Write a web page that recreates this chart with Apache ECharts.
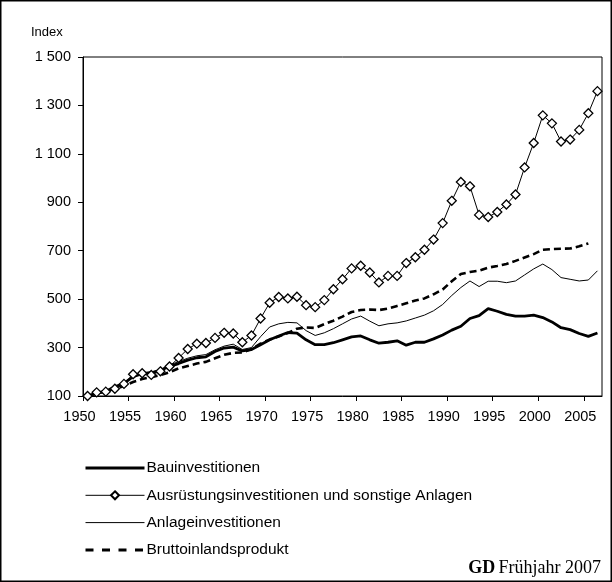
<!DOCTYPE html>
<html>
<head>
<meta charset="utf-8">
<script src="https://cdn.jsdelivr.net/npm/echarts@6/dist/echarts.min.js"></script>
<style>
  html, body { margin: 0; padding: 0; background: #fff; }
  #main { width: 612px; height: 582px; }
</style>
</head>
<body>
<div id="main"></div>
<script>
// Jahre (Kategorien)
var years = [1950,1951,1952,1953,1954,1955,1956,1957,1958,1959,
             1960,1961,1962,1963,1964,1965,1966,1967,1968,1969,
             1970,1971,1972,1973,1974,1975,1976,1977,1978,1979,
             1980,1981,1982,1983,1984,1985,1986,1987,1988,1989,
             1990,1991,1992,1993,1994,1995,1996,1997,1998,1999,
             2000,2001,2002,2003,2004,2005,2006];

// Bauinvestitionen (Index 1950 = 100)
var bau = [100,112,120,138,152,180,192,196,206,222,
           234,248,258,262,284,298,302,286,292,312,
           332,348,362,360,332,312,312,320,332,344,
           348,332,318,322,328,310,322,322,336,352,
           372,388,420,432,461,450,437,430,430,434,
           424,406,382,374,358,346,360];

// Ausrüstungsinvestitionen und sonstige Anlagen
var ausruestung = [100,115,118,130,150,190,194,187,202,222,
                   257,294,316,319,340,361,358,322,350,420,
                   485,509,503,510,475,467,496,541,582,627,
                   638,610,569,596,596,649,673,704,746,814,
                   906,984,966,848,839,860,891,932,1044,1145,
                   1259,1226,1151,1159,1199,1268,1359];

// Anlageinvestitionen
var anlage = [100,112,121,137,153,183,196,199,209,228,
              242,256,266,271,291,306,314,292,300,345,
              385,398,404,402,370,350,361,378,398,418,
              430,409,390,398,402,410,422,434,452,478,
              515,548,575,552,574,574,568,575,600,625,
              645,622,589,582,575,579,617];

// Bruttoinlandsprodukt
var bip = [100,110,119,130,141,158,170,178,186,198,
           214,224,234,241,256,270,278,280,294,316,
           333,346,360,378,383,381,397,411,428,447,
           455,457,455,461,472,483,494,503,520,540,
           574,604,612,618,630,637,645,658,672,686,
           704,707,708,709,718,730,null];

// Achsenbeschriftungen
var xTickLabels = [1950,1955,1960,1965,1970,1975,1980,1985,1990,1995,2000,2005];
var yTickLabels = [100,300,500,700,900,1100,1300,1500];

function pairs(values) {
    return years.map(function (y, i) { return [y, values[i]]; });
}

var myChart = echarts.init(document.getElementById('main'));

var axisFont = {color: '#000', fontSize: 14.5, fontFamily: 'Liberation Sans'};
var noSymbol = {opacity: 0};

option = {
    animation: false,
    backgroundColor: '#fff',
    grid: {
        left: 83,
        top: 57,
        right: 10,
        bottom: 186,
        show: true,
        borderColor: '#000',
        borderWidth: 1,
        containLabel: false,
        outerBoundsMode: 'none'
    },
    xAxis: {
        type: 'value',
        min: 1949.5,
        max: 2006.5,
        axisLine: {lineStyle: {color: '#000', width: 1}},
        axisTick: {
            show: true,
            length: 5,
            lineStyle: {color: '#000'},
            customValues: xTickLabels.map(function (v) { return v - 0.5; })
        },
        axisLabel: Object.assign({
            margin: 13,
            padding: [0, 7, 0, 0],
            customValues: xTickLabels.map(function (v) { return v - 0.5; }),
            formatter: function (v) { return String(Math.round(v + 0.5)); }
        }, axisFont),
        splitLine: {show: false}
    },
    yAxis: {
        type: 'value',
        min: 100,
        max: 1500,
        axisLine: {show: true, lineStyle: {color: '#000', width: 1}},
        axisTick: {
            show: true,
            length: 5,
            lineStyle: {color: '#000'},
            customValues: yTickLabels
        },
        axisLabel: Object.assign({
            margin: 12,
            customValues: yTickLabels,
            formatter: function (v) {
                return String(v).replace(/\B(?=(\d{3})+(?!\d))/g, ' ');
            }
        }, axisFont),
        splitLine: {show: false}
    },
    legend: {
        orient: 'vertical',
        left: 84,
        top: 460,
        padding: 0,
        itemWidth: 59,
        itemHeight: 10,
        itemGap: 11.3,
        selectedMode: false,
        textStyle: {color: '#000', fontSize: 15.5, fontFamily: 'Liberation Sans', padding: [0, 0, 0, -3]},
        data: [
            {name: 'Bauinvestitionen', itemStyle: noSymbol,
             lineStyle: {color: '#000', width: 3}},
            {name: 'Ausrüstungsinvestitionen und sonstige Anlagen',
             lineStyle: {color: '#000', width: 1}},
            {name: 'Anlageinvestitionen', itemStyle: noSymbol,
             lineStyle: {color: '#000', width: 1}},
            {name: 'Bruttoinlandsprodukt', itemStyle: noSymbol,
             lineStyle: {color: '#000', width: 3, type: [8, 8.5]}}
        ]
    },
    graphic: [
        {
            type: 'rect',
            shape: {x: 0.75, y: 0.75, width: 610.5, height: 580.5},
            style: {fill: 'none', stroke: '#000', lineWidth: 1.5},
            silent: true
        },
        {
            type: 'text',
            left: 31,
            top: 26,
            style: {text: 'Index', fill: '#000', fontSize: 13, fontFamily: 'Liberation Sans'}
        },
        {
            type: 'text',
            right: 11,
            top: 559,
            style: {
                text: '{b|GD} {n|Frühjahr 2007}',
                rich: {
                    b: {fontSize: 18, fontWeight: 'bold', fontFamily: 'Liberation Serif', fill: '#000'},
                    n: {fontSize: 18, fontFamily: 'Liberation Serif', fill: '#000'}
                }
            }
        }
    ],
    series: [
        {
            name: 'Bauinvestitionen',
            type: 'line',
            symbol: 'none',
            lineStyle: {color: '#000', width: 2.8},
            itemStyle: {color: '#000'},
            data: pairs(bau)
        },
        {
            name: 'Ausrüstungsinvestitionen und sonstige Anlagen',
            type: 'line',
            symbol: 'diamond',
            symbolSize: 9,
            showAllSymbol: true,
            lineStyle: {color: '#000', width: 1},
            itemStyle: {color: '#fff', borderColor: '#000', borderWidth: 1.3},
            data: pairs(ausruestung)
        },
        {
            name: 'Anlageinvestitionen',
            type: 'line',
            symbol: 'none',
            lineStyle: {color: '#000', width: 1},
            itemStyle: {color: '#000'},
            data: pairs(anlage)
        },
        {
            name: 'Bruttoinlandsprodukt',
            type: 'line',
            symbol: 'none',
            lineStyle: {color: '#000', width: 2.6, type: [7, 4]},
            itemStyle: {color: '#000'},
            data: pairs(bip)
        }
    ]
};

myChart.setOption(option);
</script>
</body>
</html>
